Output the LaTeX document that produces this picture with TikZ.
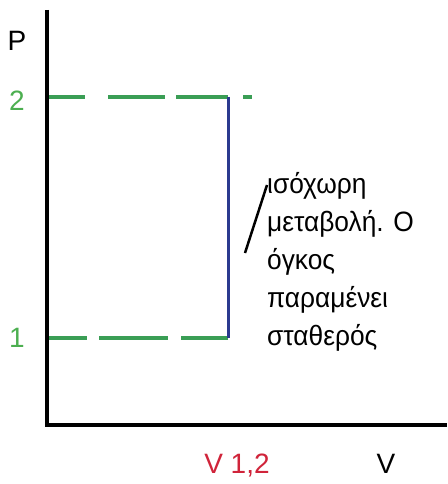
\documentclass[tikz,border=0pt]{standalone}
\usepackage{fontspec}
\setmainfont{Liberation Sans}
\newfontfamily\notefont[FakeStretch=0.94]{Liberation Sans}
\definecolor{dgreen}{HTML}{3A9E55}
\definecolor{lgreen}{HTML}{4CAF50}
\definecolor{dblue}{HTML}{2B3A8F}
\definecolor{dred}{HTML}{D0243A}
\tikzset{
  axis/.style={line width=4pt, black},
  guide/.style={line width=4pt, dgreen},
  iso/.style={line width=3pt, dblue},
  lbl/.style={inner sep=0pt, font=\fontsize{28}{28}\selectfont},
  note/.style={inner sep=0pt, anchor=base west, align=left, font=\notefont\fontsize{28}{38}\selectfont}
}
\begin{document}
\begin{tikzpicture}[x=1pt,y=-1pt]
\useasboundingbox (0,0) rectangle (447,484);
\fill[white] (0,0) rectangle (447,484);
\coordinate (top) at (47,10);
\coordinate (orig) at (47,425);
\coordinate (xend) at (447,425);
\coordinate (p2) at (48,97);
\coordinate (p1) at (48,338);
\coordinate (b2) at (228,97);
\coordinate (b1) at (228,338);
% guides
\draw[guide] (48,97) -- (85,97);
\draw[guide] (108,97) -- (165,97);
\draw[guide] (176,97) -- (b2);
\draw[guide] (243,97) -- (252,97);
\draw[guide] (p1) -- (87,338);
\draw[guide] (99,338) -- (168,338);
\draw[guide] (181,338) -- (b1);
% isochoric
\draw[iso] (b2) -- (b1);
% axes
\draw[axis] (top) -- (orig) -- (xend);
% labels
\node[lbl, black] (P) at (17,41) {P};
\node[lbl, lgreen] (l2) at (17,101) {2};
\node[lbl, lgreen] (l1) at (17,338) {1};
\node[lbl, dred] (v12) at (237,466) {V 1,2};
\node[lbl, black] (V) at (386,464) {V};
\node[note] (txt) at (267,345) {ισόχωρη\\μεταβολή. Ο\\όγκος\\παραμένει\\σταθερός};
\coordinate (t1) at (267,185);
\coordinate (t2) at (245,253);
\draw[line width=2.5pt] (t1) -- (t2);
\end{tikzpicture}
\end{document}
